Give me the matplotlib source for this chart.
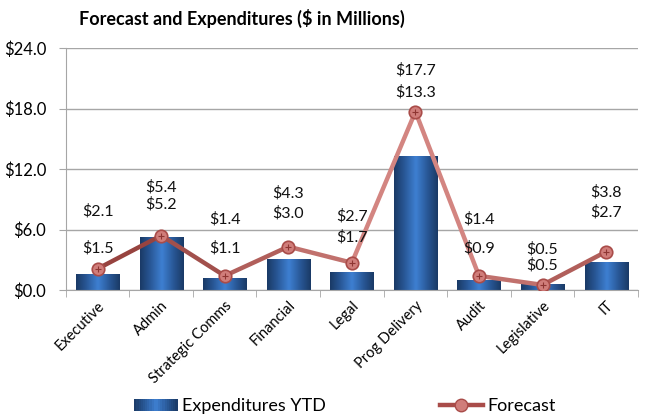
import numpy as np
import matplotlib.pyplot as plt
from matplotlib.collections import LineCollection
from matplotlib.colors import LinearSegmentedColormap, to_rgb
from matplotlib.patches import Rectangle
from matplotlib.legend_handler import HandlerBase
from matplotlib.lines import Line2D

plt.rcParams['font.family'] = ['Lato', 'DejaVu Sans']

# Data
categories = ['Executive', 'Admin', 'Strategic Comms', 'Financial', 'Legal',
              'Prog Delivery', 'Audit', 'Legislative', 'IT']
expenditures = [1.5, 5.2, 1.1, 3.0, 1.7, 13.3, 0.9, 0.5, 2.7]
forecast = [2.1, 5.4, 1.4, 4.3, 2.7, 17.7, 1.4, 0.5, 3.8]
yticks = [0, 6, 12, 18, 24]

# label heights (data units) as placed in the original chart
exp_label_y = [4.17, 8.5, 4.17, 7.61, 5.19, 19.6, 4.17, 2.41, 7.67]
fc_label_y = [7.77, 10.15, 7.04, 9.59, 7.34, 21.8, 7.04, 4.07, 9.65]

bar_cmap = LinearSegmentedColormap.from_list(
    'bar', ['#1A3A66', '#2A5A9A', '#3E80D2', '#2A5A9A', '#1A3A66'])
line_dark = np.array(to_rgb('#933F3B'))
line_light = np.array(to_rgb('#DC8F8B'))

fig = plt.figure(figsize=(6.45, 4.19), dpi=100)
ax = fig.add_axes([0.102, 0.308, 0.887, 0.577])

x = np.arange(len(categories))
bar_w = 0.68

# bars, with horizontal gradient fill
bars = ax.bar(x, expenditures, bar_w, color='none', zorder=2)
grad = np.linspace(0, 1, 64).reshape(1, -1)
for b in bars:
    ax.imshow(grad, cmap=bar_cmap, aspect='auto', zorder=2,
              extent=[b.get_x(), b.get_x() + b.get_width(), 0, b.get_height()])

# forecast line, colour shading light towards the peak
pts = np.column_stack([x, forecast])
segs = np.stack([pts[:-1], pts[1:]], axis=1)
peak = int(np.argmax(forecast))
seg_cols = []
for i in range(len(segs)):
    mid = i + 0.5
    t = 1 - abs(mid - peak) / max(peak, len(x) - 1 - peak)
    seg_cols.append(line_dark + (line_light - line_dark) * t ** 1.3)
ax.add_collection(LineCollection(segs, colors=seg_cols, linewidths=3.2,
                                 capstyle='round', joinstyle='round', zorder=3))
ax.plot(x, forecast, linestyle='none', marker='o', markersize=9,
        markerfacecolor='#D07D7A', markeredgecolor='#A94C49',
        markeredgewidth=1.2, zorder=4)
ax.plot(x, forecast, linestyle='none', marker='+', markersize=4,
        markeredgecolor='#8E3532', markeredgewidth=0.8, zorder=5)

# data labels
for i in range(len(x)):
    ax.text(x[i], fc_label_y[i], f'${forecast[i]:.1f}', ha='center',
            va='center', fontsize=11.5, color='#111111', zorder=6)
    ax.text(x[i], exp_label_y[i], f'${expenditures[i]:.1f}', ha='center',
            va='center', fontsize=11.5, color='#111111', zorder=6)

ax.set_xlim(-0.5, len(x) - 0.5)
ax.set_ylim(0, 24)
ax.set_yticks(yticks)
ax.set_yticklabels([f'${v:.1f}' for v in yticks], fontsize=12)
ax.yaxis.grid(True, color='#A6A6A6', linewidth=1)
ax.set_axisbelow(True)

ax.set_xticks(x)
ax.set_xticklabels(categories, rotation=45, ha='right',
                   rotation_mode='anchor', fontsize=10.5)
ax.tick_params(axis='x', length=0, pad=6)
ax.set_xticks(np.arange(-0.5, len(x)), minor=True)
ax.tick_params(axis='x', which='minor', length=5, color='#A6A6A6')
ax.tick_params(axis='y', length=5, color='#A6A6A6', pad=9)

for s in ['top', 'right']:
    ax.spines[s].set_visible(False)
for s in ['left', 'bottom']:
    ax.spines[s].set_color('#A6A6A6')

fig.text(0.375, 0.957, 'Forecast and Expenditures ($ in Millions)',
         ha='center', va='center', fontsize=13, fontweight='bold')


class GradientHandler(HandlerBase):
    def create_artists(self, legend, orig_handle, xdescent, ydescent,
                       width, height, fontsize, trans):
        n = 20
        arts = []
        for k in range(n):
            c = bar_cmap((k + 0.5) / n)
            arts.append(Rectangle((-xdescent + width * k / n, -ydescent),
                                  width / n + 0.3, height, facecolor=c,
                                  edgecolor='none', transform=trans))
        return arts


bar_handle = Rectangle((0, 0), 1, 1)
line_handle = Line2D([], [], color='#A94C49', linewidth=3.2, marker='o',
                     markersize=9, markerfacecolor='#D07D7A',
                     markeredgecolor='#A94C49')
fig.legend([bar_handle, line_handle], ['Expenditures YTD', 'Forecast'],
           handler_map={Rectangle: GradientHandler()},
           loc='center', bbox_to_anchor=(0.535, 0.03), ncol=2, frameon=False,
           fontsize=13, handlelength=2.4, handletextpad=0.25,
           columnspacing=6.3)

plt.savefig('out.png', dpi=100)
